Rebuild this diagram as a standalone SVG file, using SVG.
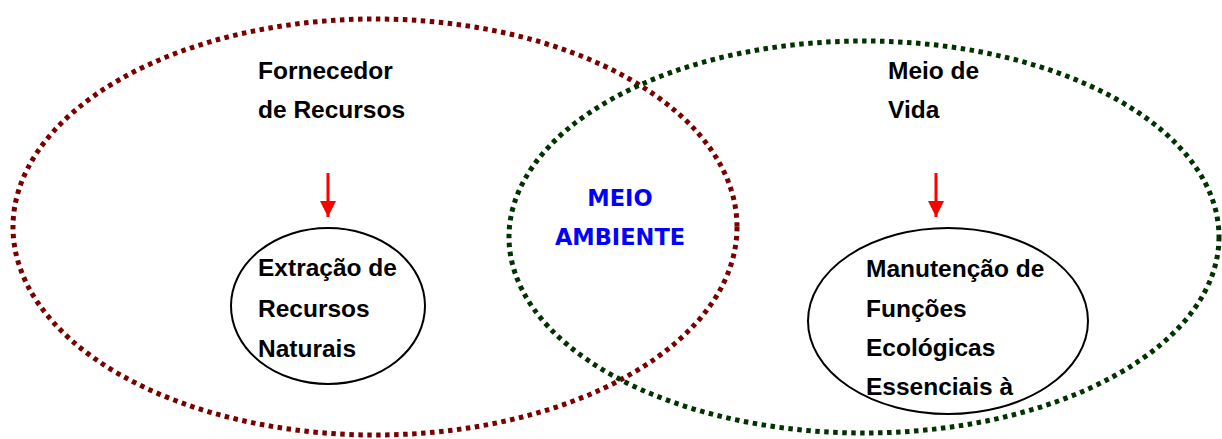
<svg xmlns="http://www.w3.org/2000/svg" width="1222" height="439" viewBox="0 0 1222 439">
<style>
.big{fill:none;stroke-width:5;stroke-dasharray:4.5 4.5}
.red{stroke:#7a0000}
.green{stroke:#003300}
.small{fill:#fff;stroke:#000;stroke-width:2}
.t{font-family:"Liberation Sans",Arial,sans-serif;font-weight:bold;font-size:24.5px;fill:#000}
.c{font-family:"DejaVu Sans",Verdana,sans-serif;font-weight:bold;font-size:22.5px;fill:#0000ff;text-anchor:middle}
.arr{stroke:#ff0000;stroke-width:3;fill:none}
</style>
<defs>
<marker id="ah" viewBox="0 0 10 10" refX="10" refY="5" markerWidth="16" markerHeight="16" markerUnits="userSpaceOnUse" orient="auto">
<path d="M0,0 L10,5 L0,10 z" fill="#ff0000"/>
</marker>
</defs>
<g id="fornecedor">
<ellipse class="big red" cx="375" cy="227" rx="362" ry="208"/>
<text class="t" x="258" y="79">Fornecedor</text>
<text class="t" x="258" y="118">de Recursos</text>
</g>
<g id="meio-de-vida">
<ellipse class="big green" cx="864" cy="237" rx="355" ry="196"/>
<text class="t" x="888" y="79">Meio de</text>
<text class="t" x="888" y="118">Vida</text>
</g>
<g id="meio-ambiente">
<text class="c" x="620" y="206">MEIO</text>
<text class="c" x="620" y="245">AMBIENTE</text>
</g>
<g id="extracao">
<ellipse class="small" cx="328" cy="306" rx="97" ry="78"/>
<text class="t" x="258" y="276">Extração de</text>
<text class="t" x="258" y="317">Recursos</text>
<text class="t" x="258" y="357">Naturais</text>
</g>
<g id="manutencao">
<ellipse class="small" cx="948" cy="321" rx="140" ry="93"/>
<text class="t" x="866" y="277">Manutenção de</text>
<text class="t" x="866" y="317">Funções</text>
<text class="t" x="866" y="356">Ecológicas</text>
<text class="t" x="866" y="395">Essenciais à</text>
</g>
<g id="connectors">
<line class="arr" x1="328" y1="173" x2="328" y2="217" marker-end="url(#ah)"/>
<line class="arr" x1="936" y1="173" x2="936" y2="217" marker-end="url(#ah)"/>
</g>
</svg>
